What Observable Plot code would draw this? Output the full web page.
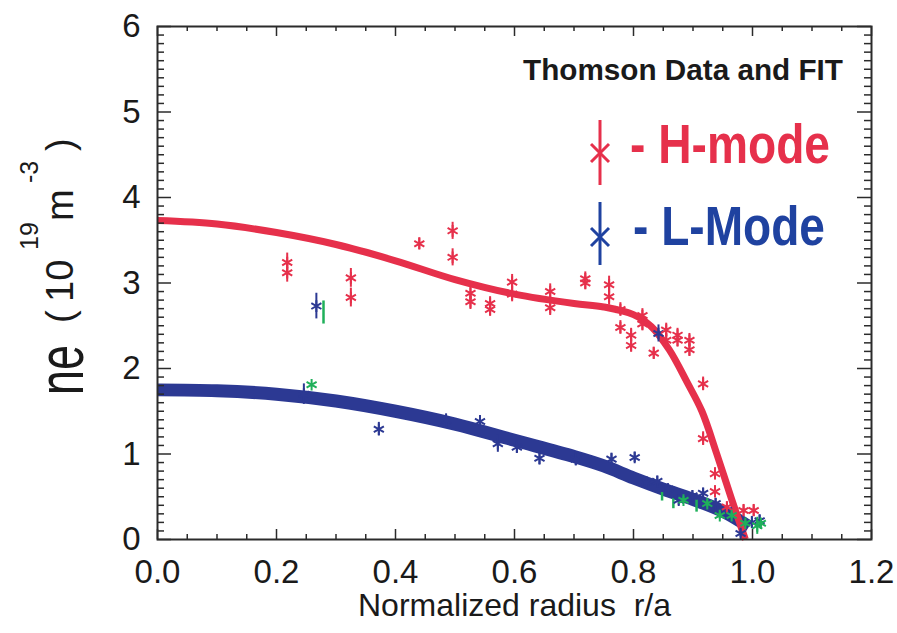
<!DOCTYPE html>
<html>
<head>
<meta charset="utf-8">
<script src="https://cdn.jsdelivr.net/npm/d3@7"></script>
<script src="https://cdn.jsdelivr.net/npm/@observablehq/plot@0.6"></script>
<style>
  html, body { margin: 0; padding: 0; background: #fff; }
  #chart { width: 897px; height: 633px; }
</style>
</head>
<body>
<div id="chart"></div>
<script>
// ---------- Data ----------
// Axis ticks
const xTicks = [0, 0.2, 0.4, 0.6, 0.8, 1.0, 1.2];
const xTickLabels = ["0.0", "0.2", "0.4", "0.6", "0.8", "1.0", "1.2"];
const yTicks = [0, 1, 2, 3, 4, 5, 6];
const yTickLabels = ["0", "1", "2", "3", "4", "5", "6"];

// H-mode Thomson data (red)
const hR   = [0.218,0.218,0.325,0.325,0.44,0.496,0.496,0.526,0.526,0.559,0.559,0.596,0.596,0.66,0.66,0.719,0.719,0.759,0.759,0.778,0.778,0.796,0.796,0.815,0.815,0.834,0.855,0.855,0.874,0.874,0.894,0.894,0.917,0.917,0.937,0.937,0.957,0.985,1.002];
const hNe  = [3.24,3.12,3.06,2.83,3.46,3.61,3.30,2.88,2.78,2.76,2.69,3.01,2.87,2.90,2.71,3.05,3.00,2.98,2.84,2.69,2.48,2.39,2.27,2.62,2.52,2.18,2.45,2.33,2.39,2.33,2.33,2.22,1.82,1.18,0.77,0.56,0.38,0.34,0.34];
const hErr = [0.11,0.11,0.11,0.11,0.07,0.1,0.1,0.09,0.09,0.08,0.08,0.09,0.09,0.09,0.09,0.08,0.08,0.1,0.1,0.08,0.08,0.08,0.08,0.08,0.08,0.07,0.08,0.08,0.08,0.08,0.08,0.08,0.08,0.08,0.07,0.07,0.06,0.07,0.07];

// L-mode Thomson data (blue)
const lR   = [0.246,0.267,0.372,0.485,0.542,0.572,0.604,0.642,0.703,0.763,0.802,0.822,0.840,0.842,0.858,0.876,0.899,0.917,0.938,0.957,0.980,0.999,1.012];
const lNe  = [1.70,2.73,1.29,1.39,1.38,1.12,1.08,0.95,0.94,0.94,0.96,0.67,0.68,2.41,0.59,0.46,0.51,0.54,0.42,0.34,0.07,0.20,0.22];
const lErr = [0.12,0.15,0.08,0.08,0.07,0.1,0.07,0.08,0.08,0.07,0.06,0.06,0.06,0.1,0.06,0.06,0.06,0.06,0.06,0.05,0.05,0.07,0.07];

// Third data set (green)
const gR   = [0.259,0.884,0.924,0.945,0.965,0.988,1.008,1.014];
const gNe  = [1.81,0.46,0.42,0.28,0.28,0.19,0.16,0.19];
const gErr = [0.01,0.04,0.04,0.04,0.04,0.04,0.10,0.05];
// green error bars without a marker
const gbR  = [0.279,0.848,0.867,0.906];
const gbLo = [2.52,0.45,0.36,0.32];
const gbHi = [2.79,0.55,0.48,0.46];

// Fits
const fitHR = [0,0.1,0.2,0.3,0.4,0.5,0.6,0.7,0.75,0.8,0.83,0.86,0.89,0.915,0.94,0.965,0.988];
const fitH  = [3.73,3.69,3.59,3.45,3.26,3.04,2.87,2.76,2.72,2.63,2.49,2.22,1.84,1.50,1.00,0.47,0.0];
const fitLR = [0,0.1,0.2,0.3,0.4,0.5,0.6,0.7,0.75,0.8,0.85,0.9,0.95,0.994];
const fitL  = [1.75,1.74,1.70,1.62,1.50,1.35,1.16,0.97,0.86,0.72,0.59,0.47,0.33,0.15];

// ---------- Styling ----------
const RED = "#e6304b";
const BLUE = "#2c3993";
const BLUE_TXT = "#1f42a0";
const GREEN = "#1fb05a";
const AX = "#2b2b2b";
const FONT = "'Liberation Sans', Arial, Helvetica, sans-serif";

const W = 897, H = 633;
const mL = 157, mR = 26, mT = 26, mB = 94;
const pxX = (1.2 - 0) / (W - mL - mR);   // data units per pixel (x)
const pxY = (6 - 0) / (H - mT - mB);     // data units per pixel (y)

const xMinor = d3.range(0, 1.2001, 0.05).filter(v => Math.abs(v * 5 - Math.round(v * 5)) > 1e-6);
const yMinor = d3.range(0, 6.0001, 0.1).filter(v => Math.abs(v - Math.round(v)) > 1e-6);

const idx = a => a.map((_, i) => i);

const svg = Plot.plot({
  width: W, height: H,
  marginLeft: mL, marginRight: mR, marginTop: mT, marginBottom: mB,
  x: {domain: [0, 1.2], axis: null},
  y: {domain: [0, 6], axis: null},
  style: {fontFamily: FONT, background: "#fff", overflow: "visible"},
  marks: [
    // fits
    Plot.line(idx(fitLR), {x: i => fitLR[i], y: i => fitL[i], stroke: BLUE, strokeWidth: 13, curve: "catmull-rom", strokeLinecap: "butt"}),
    Plot.line(idx(fitHR), {x: i => fitHR[i], y: i => fitH[i], stroke: RED, strokeWidth: 7, curve: "catmull-rom", strokeLinecap: "butt"}),
    // green error bars only
    Plot.ruleX(idx(gbR), {x: i => gbR[i], y1: i => gbLo[i], y2: i => gbHi[i], stroke: GREEN, strokeWidth: 2.5}),
    // L-mode data
    Plot.ruleX(idx(lR), {x: i => lR[i], y1: i => lNe[i] - lErr[i], y2: i => lNe[i] + lErr[i], stroke: BLUE, strokeWidth: 2}),
    Plot.dot(idx(lR), {x: i => lR[i], y: i => lNe[i], symbol: "asterisk", r: 5.5, stroke: BLUE, strokeWidth: 2}),
    // H-mode data
    Plot.ruleX(idx(hR), {x: i => hR[i], y1: i => hNe[i] - hErr[i], y2: i => hNe[i] + hErr[i], stroke: RED, strokeWidth: 2}),
    Plot.dot(idx(hR), {x: i => hR[i], y: i => hNe[i], symbol: "asterisk", r: 5.5, stroke: RED, strokeWidth: 2}),
    // green data
    Plot.ruleX(idx(gR), {x: i => gR[i], y1: i => gNe[i] - gErr[i], y2: i => gNe[i] + gErr[i], stroke: GREEN, strokeWidth: 2}),
    Plot.dot(idx(gR), {x: i => gR[i], y: i => gNe[i], symbol: "asterisk", r: 5.5, stroke: GREEN, strokeWidth: 2}),
    // frame
    Plot.frame({stroke: AX, strokeWidth: 2}),
    // x ticks (inward, bottom and top)
    Plot.ruleX(xTicks, {x: d => d, y1: 0, y2: 10 * pxY, stroke: AX, strokeWidth: 1.5}),
    Plot.ruleX(xTicks, {x: d => d, y1: 6, y2: 6 - 10 * pxY, stroke: AX, strokeWidth: 1.5}),
    Plot.ruleX(xMinor, {x: d => d, y1: 0, y2: 5 * pxY, stroke: AX, strokeWidth: 1.5}),
    Plot.ruleX(xMinor, {x: d => d, y1: 6, y2: 6 - 5 * pxY, stroke: AX, strokeWidth: 1.5}),
    // y ticks (inward, left and right)
    Plot.ruleY(yTicks, {y: d => d, x1: 0, x2: 14 * pxX, stroke: AX, strokeWidth: 1.5}),
    Plot.ruleY(yTicks, {y: d => d, x1: 1.2, x2: 1.2 - 14 * pxX, stroke: AX, strokeWidth: 1.5}),
    Plot.ruleY(yMinor, {y: d => d, x1: 0, x2: 7 * pxX, stroke: AX, strokeWidth: 1.5}),
    Plot.ruleY(yMinor, {y: d => d, x1: 1.2, x2: 1.2 - 7 * pxX, stroke: AX, strokeWidth: 1.5}),
    // tick labels
    Plot.text(xTickLabels, {x: (d, i) => xTicks[i], y: 0, text: d => d, dy: 33, fontSize: 33, fill: "#1a1a1a"}),
    Plot.text(yTickLabels, {x: 0, y: (d, i) => yTicks[i], text: d => d, textAnchor: "end", dx: -17, fontSize: 33, fill: "#1a1a1a"}),
    // x axis title
    Plot.text(["Normalized radius \u00a0r/a"], {frameAnchor: "bottom", text: d => d, dy: 76, fontSize: 32, fill: "#1a1a1a"})
  ]
});

document.getElementById("chart").appendChild(svg);

// ---------- y-axis title and legend (real text) ----------
const s = d3.select(svg);

// rotated pieces of "ne (10^19 m^-3)": (baseline x, start y) in page pixels
function rt(str, bx, by, size, len) {
  const t = s.append("text")
    .attr("transform", `translate(${bx},${by}) rotate(-90)`)
    .attr("text-anchor", "start")
    .attr("font-family", FONT)
    .attr("font-size", size)
    .attr("fill", "#1a1a1a")
    .text(str);
  if (len) t.attr("textLength", len).attr("lengthAdjust", "spacingAndGlyphs");
}
rt("ne", 83, 395, 64, 50);
rt("(", 73, 323, 38);
rt("10", 73, 302, 38);
rt("19", 38, 250, 25);
rt("m", 73, 221, 38);
rt("-3", 38, 183, 25);
rt(")", 73, 151, 38);

// Legend header
s.append("text")
  .attr("x", 843).attr("y", 80)
  .attr("text-anchor", "end")
  .attr("font-family", FONT).attr("font-weight", "bold").attr("font-size", 30)
  .attr("textLength", 320).attr("lengthAdjust", "spacingAndGlyphs")
  .attr("fill", "#1a1a1a")
  .text("Thomson Data and FIT");

function legendGlyph(cx, cy, y1, y2, color) {
  const g = s.append("g").attr("stroke", color).attr("stroke-width", 3).attr("fill", "none");
  g.append("line").attr("x1", cx).attr("x2", cx).attr("y1", y1).attr("y2", y2);
  g.append("line").attr("x1", cx - 9).attr("x2", cx + 9).attr("y1", cy - 9).attr("y2", cy + 9);
  g.append("line").attr("x1", cx - 9).attr("x2", cx + 9).attr("y1", cy + 9).attr("y2", cy - 9);
}
legendGlyph(600, 153, 120, 185, RED);
legendGlyph(600, 237, 202, 265, BLUE_TXT);

s.append("text")
  .attr("x", 630).attr("y", 163)
  .attr("text-anchor", "start")
  .attr("font-family", FONT).attr("font-weight", "bold").attr("font-size", 56)
  .attr("textLength", 200).attr("lengthAdjust", "spacingAndGlyphs")
  .attr("fill", RED)
  .text("- H-mode");

s.append("text")
  .attr("x", 633).attr("y", 245)
  .attr("text-anchor", "start")
  .attr("font-family", FONT).attr("font-weight", "bold").attr("font-size", 55)
  .attr("textLength", 192).attr("lengthAdjust", "spacingAndGlyphs")
  .attr("fill", BLUE_TXT)
  .text("- L-Mode");
</script>
</body>
</html>
